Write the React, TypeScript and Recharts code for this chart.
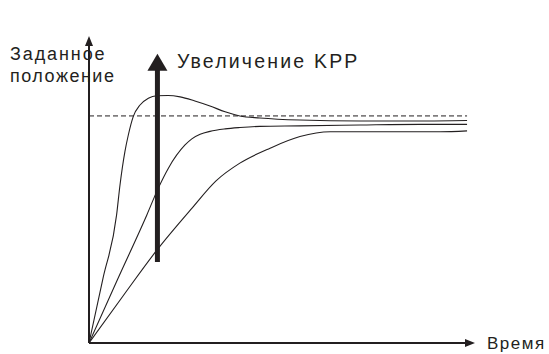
import {
  LineChart,
  Line,
  XAxis,
  YAxis,
  ReferenceLine,
  ReferenceDot,
} from 'recharts';

// time (0..100 = end of trace) vs position (% of commanded position)
const highKpp = [
  { t: 0, v: 0 }, { t: 3.7, v: 28.5 }, { t: 7.3, v: 56.4 }, { t: 8.2, v: 69.6 },
  { t: 9.5, v: 84.3 }, { t: 10.4, v: 91.6 }, { t: 11.7, v: 99.7 }, { t: 13.5, v: 104.8 },
  { t: 15.7, v: 107.8 }, { t: 17.9, v: 108.9 }, { t: 20.9, v: 109.0 }, { t: 24.1, v: 108.4 },
  { t: 28.0, v: 106.6 }, { t: 32.0, v: 104.4 }, { t: 36.0, v: 101.8 }, { t: 39.9, v: 100.0 },
  { t: 45.2, v: 99.1 }, { t: 55.8, v: 98.2 }, { t: 71.7, v: 97.8 }, { t: 87.6, v: 97.8 },
  { t: 100, v: 98.0 },
];

const midKpp = [
  { t: 0, v: 0 }, { t: 7.6, v: 28.2 }, { t: 15.3, v: 56.4 }, { t: 18.3, v: 68.1 },
  { t: 21.0, v: 77.0 }, { t: 25.4, v: 87.2 }, { t: 27.2, v: 89.9 }, { t: 29.4, v: 91.9 },
  { t: 32.0, v: 93.2 }, { t: 36.0, v: 94.3 }, { t: 39.9, v: 94.9 }, { t: 45.2, v: 95.4 },
  { t: 55.8, v: 95.6 }, { t: 71.7, v: 96.0 }, { t: 87.6, v: 96.3 }, { t: 100, v: 96.3 },
];

const lowKpp = [
  { t: 0, v: 0 }, { t: 9.0, v: 20.7 }, { t: 18.0, v: 41.0 }, { t: 27.2, v: 59.3 },
  { t: 33.6, v: 71.4 }, { t: 39.9, v: 79.2 }, { t: 47.9, v: 85.8 }, { t: 55.8, v: 90.9 },
  { t: 63.8, v: 93.0 }, { t: 80.4, v: 93.0 }, { t: 92.9, v: 93.0 }, { t: 100, v: 93.4 },
];

const SETPOINT = 100;
const X_MAX = 102.1;
const Y_MAX = 135.2;
const ARROW_T = 18.1;
const ARROW_FROM = 35.7;
const ARROW_TO = 120.3;

const INK = '#231f20';
const FONT = '"Liberation Sans", Arial, sans-serif';

export default function App() {
  return (
    <div style={{ width: 549, height: 354, background: '#fff' }}>
      <style>{'body{margin:0}'}</style>
      <LineChart
        width={549}
        height={354}
        margin={{ top: 36, right: 74, bottom: 11, left: 89 }}
      >
        <XAxis type="number" dataKey="t" domain={[0, X_MAX]} hide allowDataOverflow />
        <YAxis type="number" dataKey="v" domain={[0, Y_MAX]} hide allowDataOverflow />

        {/* setpoint */}
        <ReferenceLine
          segment={[{ x: 0, y: SETPOINT }, { x: 100, y: SETPOINT }]}
          stroke={INK}
          strokeWidth={1}
          strokeDasharray="5 3"
          ifOverflow="visible"
        />

        <Line data={highKpp} dataKey="v" type="monotone" stroke={INK} strokeWidth={1.1} dot={false} isAnimationActive={false} />
        <Line data={midKpp} dataKey="v" type="monotone" stroke={INK} strokeWidth={1.1} dot={false} isAnimationActive={false} />
        <Line data={lowKpp} dataKey="v" type="monotone" stroke={INK} strokeWidth={1.1} dot={false} isAnimationActive={false} />

        {/* axes */}
        <ReferenceLine segment={[{ x: 0, y: 0 }, { x: 0, y: Y_MAX - 3 }]} stroke={INK} strokeWidth={2} ifOverflow="visible" />
        <ReferenceLine segment={[{ x: 0, y: 0 }, { x: X_MAX - 2, y: 0 }]} stroke={INK} strokeWidth={2} ifOverflow="visible" />
        <ReferenceDot
          x={0}
          y={Y_MAX}
          r={1}
          ifOverflow="visible"
          shape={(p: any) => (
            <g>
              <polygon points={`${p.cx},${p.cy} ${p.cx - 4},${p.cy + 10} ${p.cx + 4},${p.cy + 10}`} fill={INK} />
              <text x={10} y={59.5} fontFamily={FONT} fontSize={18} letterSpacing={1.9} fill={INK}>Заданное</text>
              <text x={10} y={81.5} fontFamily={FONT} fontSize={18} letterSpacing={1.5} fill={INK}>положение</text>
            </g>
          )}
        />
        <ReferenceDot
          x={X_MAX}
          y={0}
          r={1}
          ifOverflow="visible"
          shape={(p: any) => (
            <g>
              <polygon points={`${p.cx},${p.cy} ${p.cx - 10},${p.cy - 4} ${p.cx - 10},${p.cy + 4}`} fill={INK} />
              <text x={p.cx + 12} y={p.cy + 6} fontFamily={FONT} fontSize={17} letterSpacing={1.5} fill={INK}>Время</text>
            </g>
          )}
        />

        {/* "increase KPP" arrow */}
        <ReferenceLine
          segment={[{ x: ARROW_T, y: ARROW_FROM }, { x: ARROW_T, y: ARROW_TO }]}
          stroke={INK}
          strokeWidth={5}
          ifOverflow="visible"
        />
        <ReferenceDot
          x={ARROW_T}
          y={ARROW_TO}
          r={1}
          ifOverflow="visible"
          shape={(p: any) => (
            <g>
              <polygon points={`${p.cx},${p.cy - 16} ${p.cx - 10},${p.cy + 1} ${p.cx + 10},${p.cy + 1}`} fill={INK} />
              <text x={p.cx + 19.5} y={p.cy - 1.5} fontFamily={FONT} fontSize={19.5} letterSpacing={2.2} fill={INK}>Увеличение KPP</text>
            </g>
          )}
        />
      </LineChart>
    </div>
  );
}
